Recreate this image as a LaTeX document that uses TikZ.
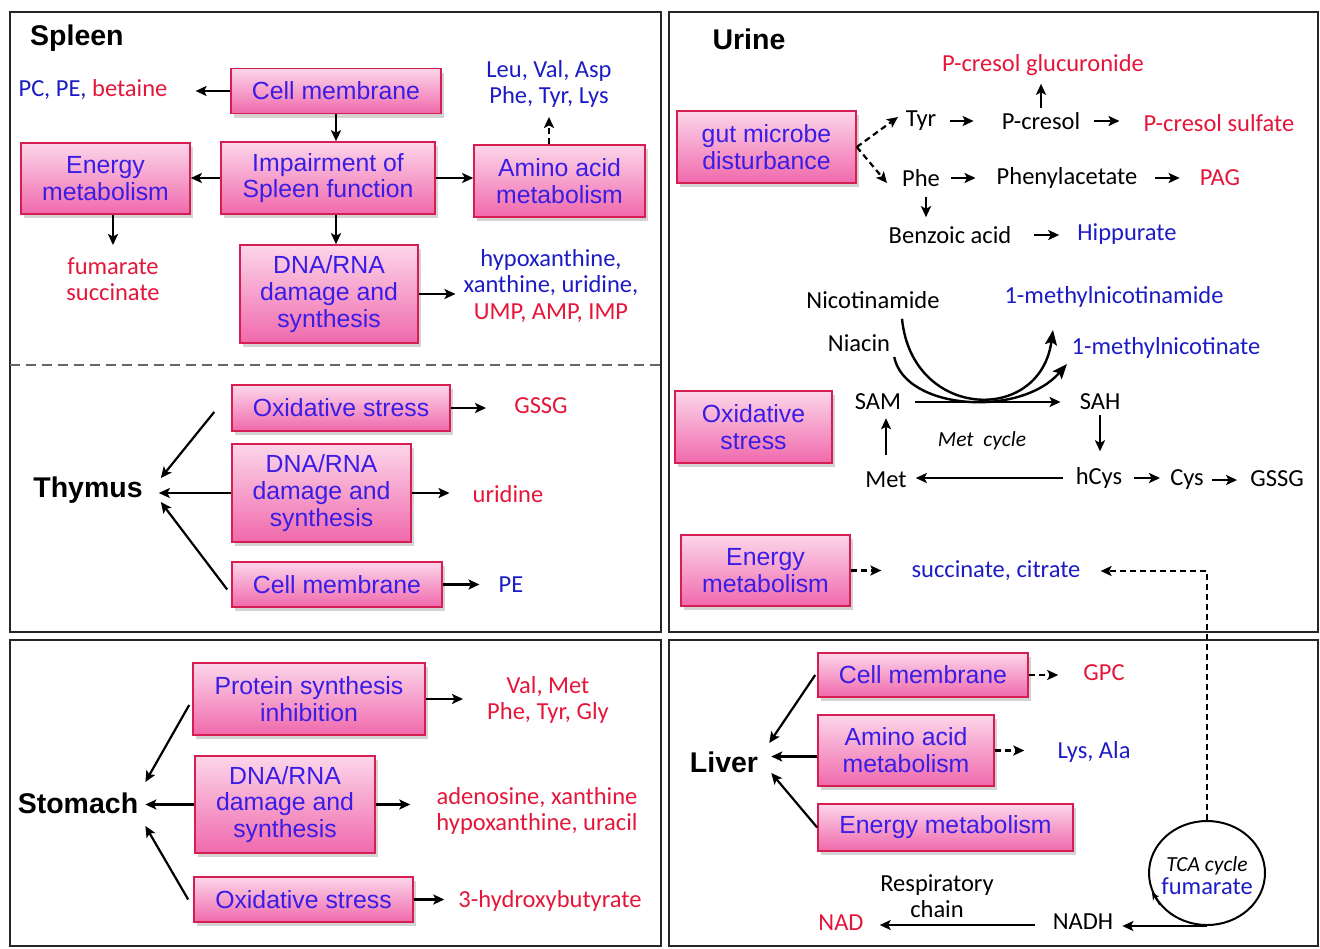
\documentclass[tikz,border=0pt]{standalone}
\usepackage{fontspec}
\setmainfont{Liberation Sans}
\newfontfamily\cbfont{Carlito}
\usepackage{xcolor}
\usetikzlibrary{arrows.meta,shapes,positioning,calc,shadows}
\definecolor{boxtop}{RGB}{252,214,234}
\definecolor{boxbot}{RGB}{240,105,172}
\definecolor{boxline}{RGB}{214,30,82}
\definecolor{boxtext}{RGB}{58,28,228}
\definecolor{lblue}{RGB}{28,28,196}
\definecolor{lred}{RGB}{228,22,58}

\begin{document}
\begin{tikzpicture}[x=1pt,y=-1pt,
  box/.style={draw=boxline,line width=1.6pt,top color=boxtop,bottom color=boxbot,
              drop shadow={shadow xshift=3pt,shadow yshift=-4pt,opacity=0.35},
              text=boxtext,align=center,inner sep=0pt,
              font=\fontsize{24.8}{26.8}\selectfont},
  lbl/.style={inner sep=0pt,align=center,font=\cbfont\fontsize{24.5}{26.5}\selectfont},
  organ/.style={inner sep=0pt,font=\bfseries\fontsize{28.5}{30}\selectfont},
  arr/.style={-{Stealth[length=11pt,width=10pt,inset=2.5pt]},line width=2.2pt},
  darr/.style={arr,dash pattern=on 6pt off 4pt},
  carr/.style={-{Stealth[length=15pt,width=12pt,inset=3pt]},line width=2.4pt},
  panel/.style={draw=black!85,line width=2.4pt}]
  \useasboundingbox (0,0) rectangle (1320,948);
  \draw[panel] (10,12) rectangle (661,632);
  \draw[panel] (669,12) rectangle (1318,632);
  \draw[panel] (10,640) rectangle (661,946);
  \draw[panel] (669,640) rectangle (1318,946);
  \draw[dash pattern=on 10pt off 6pt,line width=1.5pt,black!60] (10,365) -- (661,365);

  % spleen
  \node[organ,anchor=west] (spleen) at (30,38) {Spleen};
  \node[box,minimum width=210,minimum height=45] (cm) at (336,91) {Cell membrane};
  \node[box,minimum width=214,minimum height=72] (imp) at (328,178) {Impairment of\\Spleen function};
  \node[box,minimum width=169,minimum height=71] (energy) at (105.5,178.5) {Energy\\metabolism};
  \node[box,minimum width=171,minimum height=72] (amino) at (559.5,181) {Amino acid\\metabolism};
  \node[box,minimum width=178,minimum height=98] (dna) at (329,294) {DNA/RNA\\damage and\\synthesis};
  \node[lbl,text=lblue] (pcpe) at (93,90) {PC, PE, \textcolor{lred}{betaine}};
  \node[lbl,text=lblue] (leu) at (549,84) {Leu, Val, Asp\\Phe, Tyr, Lys};
  \node[lbl,text=lred] (fum) at (113,279) {fumarate\\succinate};
  \node[lbl,text=lblue] (hypo) at (551,286) {hypoxanthine,\\xanthine, uridine,\\\textcolor{lred}{UMP, AMP, IMP}};
  \draw[arr,shorten >=28pt] (cm.west) -- (cm.west -| pcpe.east);
  \draw[arr] (cm.south) -- (cm.south |- imp.north);
  \draw[arr] (imp.west) -- (imp.west -| energy.east);
  \draw[arr] (imp.east) -- (imp.east -| amino.west);
  \draw[darr,shorten >=9pt] (leu.south |- amino.north) -- (leu.south);
  \draw[arr,shorten >=12pt] (fum.north |- energy.south) -- (fum.north);
  \draw[arr] (imp.south -| cm.south) -- (dna.north -| cm.south);
  \draw[arr,shorten >=8pt] (dna.east) -- (dna.east -| hypo.west);

  % thymus
  \node[organ] (thymus) at (88,490) {Thymus};
  \node[box,minimum width=218,minimum height=46] (tox) at (341,408) {Oxidative stress};
  \node[box,minimum width=179,minimum height=98] (tdna) at (321.5,493) {DNA/RNA\\damage and\\synthesis};
  \node[box,minimum width=210,minimum height=45] (tcm) at (337,584.5) {Cell membrane};
  \node[lbl,text=lred] (tgssg) at (541,406) {GSSG};
  \node[lbl,text=lred] (turi) at (508,494) {uridine};
  \node[lbl,text=lblue] (tpe) at (511,585) {PE};
  \draw[arr,shorten >=28pt] (tox.east) -- (tox.east -| tgssg.west);
  \draw[arr,shorten >=23pt] (tdna.east) -- (tdna.east -| turi.west);
  \draw[arr,shorten >=19pt] (tcm.east) -- (tcm.east -| tpe.west);
  \draw[arr] ([xshift=-17pt,yshift=-4pt]tox.west) -- ([xshift=18pt,yshift=12pt]thymus.east);
  \draw[arr,shorten >=16pt] (tdna.west) -- (tdna.west -| thymus.east);
  \draw[arr] ([xshift=-4pt,yshift=-5pt]tcm.west) -- ([xshift=18pt,yshift=-12pt]thymus.east);

  % stomach
  \node[organ] (stomach) at (78,803) {Stomach};
  \node[box,minimum width=232,minimum height=72] (prot) at (309,699) {Protein synthesis\\inhibition};
  \node[box,minimum width=180,minimum height=97] (sdna) at (285,804.5) {DNA/RNA\\damage and\\synthesis};
  \node[box,minimum width=219,minimum height=45] (sox) at (303.5,899.5) {Oxidative stress};
  \node[lbl,text=lred] (valmet) at (548,700) {Val, Met\\Phe, Tyr, Gly};
  \node[lbl,text=lred] (adeno) at (537,811) {adenosine, xanthine\\hypoxanthine, uracil};
  \node[lbl,text=lred] (hbut) at (550,901) {3-hydroxybutyrate};
  \draw[arr,shorten >=24pt] (prot.east) -- (prot.east -| valmet.west);
  \draw[arr,shorten >=26pt] (sdna.east) -- (sdna.east -| adeno.west);
  \draw[arr,shorten >=14pt] (sox.east) -- (sox.east -| hbut.west);
  \draw[arr] ([xshift=-3pt,yshift=-6pt]prot.west) -- ([xshift=7pt,yshift=21pt]stomach.east);
  \draw[arr,shorten >=7pt] (sdna.west) -- (sdna.west -| stomach.east);
  \draw[arr] ([xshift=-5pt]sox.west) -- ([xshift=7pt,yshift=-23pt]stomach.east);

  % urine
  \node[organ] (urine) at (749,39) {Urine};
  \node[box,minimum width=179,minimum height=72] (gut) at (766.5,147) {gut microbe\\disturbance};
  \node[lbl] (tyr) at (921,121) {Tyr};
  \node[lbl] (pcr) at (1041,121) {P-cresol};
  \node[lbl,text=lred] (pcg) at (1043,65) {P-cresol glucuronide};
  \node[lbl,text=lred] (pcs) at (1219,123) {P-cresol sulfate};
  \node[lbl] (phe) at (921,178) {Phe};
  \node[lbl] (phac) at (1067,178) {Phenylacetate};
  \node[lbl,text=lred] (pag) at (1220,178) {PAG};
  \node[lbl] (benz) at (950,235) {Benzoic acid};
  \node[lbl,text=lblue] (hipp) at (1127,234) {Hippurate};
  \coordinate (tyrin) at (898,117);
  \coordinate (phein) at (887,183);
  \draw[darr] (gut.east) -- (tyrin);
  \draw[darr] (gut.east) -- (phein);
  \draw[arr,shorten <=14pt,shorten >=28pt] (tyr.east) -- (pcr.west);
  \draw[arr,shorten <=4pt,shorten >=8pt] (pcr.north) -- (pcr.north |- pcg.south);
  \draw[arr,shorten <=14pt,shorten >=24pt] (pcr.east) -- (pcr.east -| pcs.west);
  \draw[arr,shorten <=11pt,shorten >=21pt] (phe.east) -- (phac.west);
  \draw[arr,shorten <=18pt,shorten >=20pt] (phac.east) -- (pag.west);
  \draw[arr,shorten <=10pt,shorten >=9pt] ([xshift=5pt]phe.south) -- ([xshift=5pt]phe.south |- benz.north);
  \draw[arr,shorten <=23pt,shorten >=18pt] (benz.east) -- (benz.east -| hipp.west);

  \node[lbl] (nicam) at (873,300) {Nicotinamide};
  \node[lbl,text=lblue] (mnam) at (1114,297) {1-methylnicotinamide};
  \node[lbl] (niacin) at (859,343) {Niacin};
  \node[lbl,text=lblue] (mnat) at (1166,348) {1-methylnicotinate};
  \node[lbl] (sam) at (878,402) {SAM};
  \node[lbl] (sah) at (1100,402) {SAH};
  \node[lbl] (met) at (886,480) {Met};
  \node[lbl] (hcys) at (1099,478) {hCys};
  \node[lbl] (cys) at (1187,480) {Cys};
  \node[lbl] (gssg) at (1277,479) {GSSG};
  \node[lbl,font=\cbfont\itshape\fontsize{21.5}{23}\selectfont] (metcyc) at (982,441) {Met\ \ cycle};
  \coordinate (nicout) at (1053,330);
  \coordinate (niaout) at (1067,364);
  \draw[carr] ([xshift=29pt,yshift=-10pt]nicam.south) .. controls (912,420) and (1040,425) .. (nicout);
  \draw[carr] ([xshift=4pt,yshift=-14pt]niacin.east) .. controls (905,410) and (1020,418) .. (niaout);
  \draw[arr,shorten <=14pt,shorten >=19pt] (sam.east) -- (sah.west);
  \draw[arr,shorten <=17pt,shorten >=8pt] (met.north) -- (met.north |- sam.south);
  \draw[arr,shorten <=5pt,shorten >=16pt] (sah.south) -- (sah.south |- hcys.north);
  \draw[arr,shorten <=13pt,shorten >=9pt] (hcys.west) -- (hcys.west -| met.east);
  \draw[arr,shorten <=12pt,shorten >=10pt] (hcys.east) -- (hcys.east -| cys.west);
  \draw[arr,shorten <=8pt,shorten >=13pt] (cys.east) -- (cys.east -| gssg.west);

  \node[box,minimum width=157,minimum height=72] (uox) at (753.5,427) {Oxidative\\stress};
  \node[box,minimum width=169,minimum height=71] (uen) at (765.5,570.5) {Energy\\metabolism};
  \node[lbl,text=lblue] (succ) at (996,571) {succinate, citrate};
  \draw[darr,shorten >=30pt] (uen.east) -- (uen.east -| succ.west);

  % liver
  \node[organ] (liver) at (724,762) {Liver};
  \node[box,minimum width=210,minimum height=44] (lcm) at (923,675) {Cell membrane};
  \node[box,minimum width=176,minimum height=71] (lam) at (906,750.5) {Amino acid\\metabolism};
  \node[box,minimum width=255,minimum height=47] (len) at (945.5,827.5) {Energy metabolism};
  \node[lbl,text=lred] (gpc) at (1104,673) {GPC};
  \node[lbl,text=lblue] (lysala) at (1094,752) {Lys, Ala};
  \draw[darr,shorten >=25pt] (lcm.east) -- (lcm.east -| gpc.west);
  \draw[darr,shorten >=33pt] (lam.east) -- (lam.east -| lysala.west);
  \draw[arr] ([xshift=-2pt]lcm.west) -- ([xshift=11pt,yshift=19pt]liver.east);
  \draw[arr,shorten >=13pt] ([yshift=-6pt]lam.west) -- ([yshift=-6pt]lam.west -| liver.east);
  \draw[arr] (len.west) -- ([xshift=13pt,yshift=-11pt]liver.east);

  \node[ellipse,draw,line width=2pt,minimum width=116,minimum height=104,inner sep=0pt] (tca) at (1207,873) {};
  \node[lbl,font=\cbfont\fontsize{24.5}{23}\selectfont] (tcatxt) at (1207,876)
        {{\fontsize{21.5}{23}\selectfont\itshape TCA cycle}\\\textcolor{lblue}{fumarate}};
  \draw[-{Stealth[length=8pt,width=7pt]},line width=1.4pt] (tca.214) -- (tca.199);
  \draw[darr,shorten >=20pt] (tca.north) |- (succ.east);
  \node[lbl] (nadh) at (1083,922) {NADH};
  \node[lbl,text=lred] (nad) at (841,923) {NAD};
  \node[lbl] (resp) at (937,896) {Respiratory\\chain};
  \draw[arr,shorten >=9pt] (tca.south) -- (tca.south -| nadh.east);
  \draw[arr,shorten <=18pt,shorten >=16pt] ([yshift=-3pt]nadh.west) -- ([yshift=-3pt]nadh.west -| nad.east);
\end{tikzpicture}
\end{document}
